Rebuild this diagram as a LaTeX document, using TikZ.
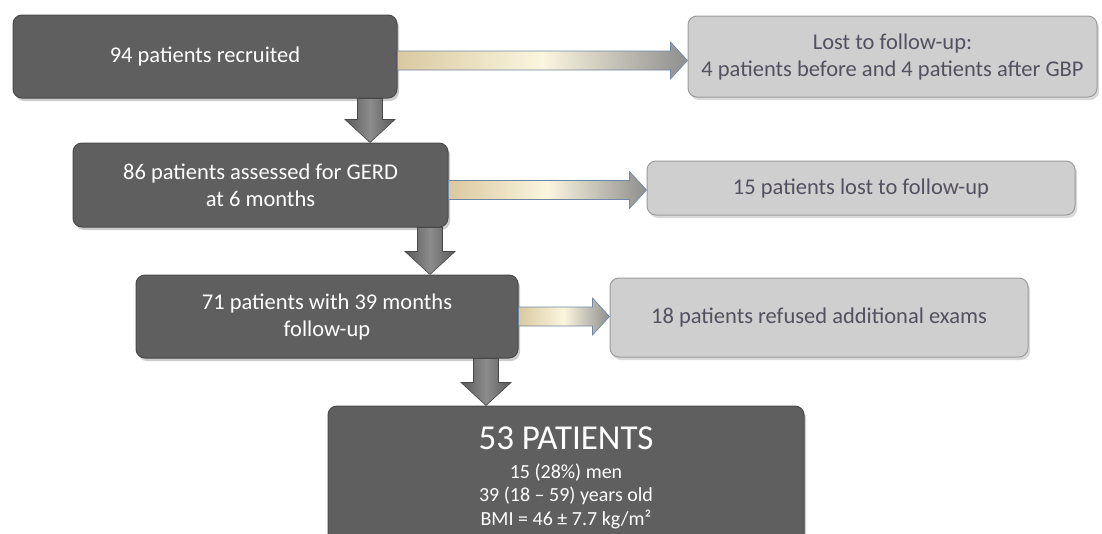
\documentclass[tikz,border=0pt]{standalone}
\usepackage{fontspec}
\setmainfont{Carlito}
\usetikzlibrary{calc,shadows}

\definecolor{darkfill}{HTML}{5F5F5F}
\definecolor{darkedge}{HTML}{4A4A4A}
\definecolor{lightfill}{HTML}{CFCFCF}
\definecolor{lightedge}{HTML}{9C9C9C}
\definecolor{lighttext}{HTML}{545060}
\definecolor{arrowtan}{HTML}{D9C9A0}
\definecolor{arrowcream}{HTML}{FBF6DF}
\definecolor{arrowgray}{HTML}{8E8E8E}
\definecolor{arrowedge}{HTML}{6F86A6}
\definecolor{downdark}{HTML}{5A5A5A}
\definecolor{downmid}{HTML}{8C8C8C}

\begin{document}
\begin{tikzpicture}[x=1pt, y=-1pt,
    darkbox/.style={draw=darkedge, fill=darkfill, line width=1pt, rounded corners=9pt,
      inner sep=0pt, text=white, align=center, font=\fontsize{22.5}{27}\selectfont,
      drop shadow={shadow xshift=2pt, shadow yshift=-3pt, opacity=0.4}},
    lightbox/.style={draw=lightedge, fill=lightfill, line width=1pt, rounded corners=9pt,
      inner sep=0pt, text=lighttext, align=center, font=\fontsize{22.5}{27}\selectfont,
      drop shadow={shadow xshift=2pt, shadow yshift=-3pt, opacity=0.3}},
    sidearrow/.style={draw=arrowedge, line width=0.6pt, left color=arrowtan,
      right color=arrowgray, middle color=arrowcream},
    downarrow/.style={draw=downdark!80!black, line width=0.6pt, left color=downdark,
      right color=downdark, middle color=downmid}]
    \useasboundingbox (0,0) rectangle (1102,533);
    \clip (0,0) rectangle (1102,533);
    % main column
    \node[darkbox, minimum width=384pt, minimum height=83pt] (recruit) at (205,56.5) {94 patients recruited};
    \node[darkbox, minimum width=375pt, minimum height=84pt] (assess) at (260.5,185) {86 patients assessed for GERD\\at 6 months};
    \node[darkbox, minimum width=382pt, minimum height=83pt] (followup) at (327,316.5) {71 patients with 39 months\\follow-up};
    \node[darkbox, minimum width=476pt, minimum height=144pt, font=\fontsize{20}{23.5}\selectfont] (final) at (566,478)
      {{\fontsize{35}{35}\selectfont 53 PATIENTS}\\[5pt]15 (28\%) men\\39 (18 – 59) years old\\BMI = 46 ± 7.7 kg/m²};
    % side boxes
    \node[lightbox, minimum width=409pt, minimum height=81pt] (lost1) at (892.5,56.5) {Lost to follow-up:\\4 patients before and 4 patients after GBP};
    \node[lightbox, minimum width=428pt, minimum height=54pt] (lost2) at (861,188) {15 patients lost to follow-up};
    \node[lightbox, minimum width=418pt, minimum height=79pt] (refused) at (819,317.5) {18 patients refused additional exams};
    % arrows to the side
    \foreach \a/\b/\d in {recruit/lost1/4, assess/lost2/5, followup/refused/0}{
      \path ($(\a.east)+(0,\d)$) coordinate (hs) (\b.west |- hs) coordinate (he);
      \draw[sidearrow] ($(hs)+(0,-9.5)$) -- ($(he)+(-17,-9.5)$) -- ($(he)+(-17,-18.5)$) -- (he)
        -- ($(he)+(-17,18.5)$) -- ($(he)+(-17,9.5)$) -- ($(hs)+(0,9.5)$) -- cycle;
    }
    % arrows down
    \foreach \a/\b/\x in {recruit/assess/370, assess/followup/430, followup/final/486}{
      \coordinate (vx) at (\x,0);
      \path (\a.south -| vx) coordinate (vs) (\b.north -| vx) coordinate (ve);
      \draw[downarrow] ($(vs)+(-12.5,0)$) -- ($(ve)+(-12.5,-23)$) -- ($(ve)+(-25,-23)$) -- (ve)
        -- ($(ve)+(25,-23)$) -- ($(ve)+(12.5,-23)$) -- ($(vs)+(12.5,0)$) -- cycle;
    }
\end{tikzpicture}
\end{document}
